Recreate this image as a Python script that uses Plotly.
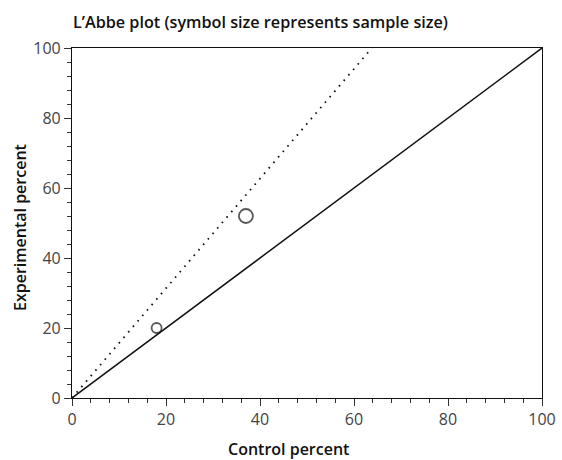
import plotly.graph_objects as go

# Trial event rates (percent)
control_pct = [18, 37]
experimental_pct = [20, 52]

# Reference lines: line of equality and pooled-effect line
equality_x = [0, 100]
equality_y = [0, 100]
pooled_x = [0, 63.8]
pooled_y = [0, 100]

tick_vals = [0, 20, 40, 60, 80, 100]
tick_text = ["0", "20", "40", "60", "80", "100"]

FONT = "Open Sans"

fig = go.Figure()

fig.add_trace(go.Scatter(
    x=equality_x, y=equality_y, mode="lines",
    line=dict(color="#111111", width=1.5), hoverinfo="skip", showlegend=False,
))
fig.add_trace(go.Scatter(
    x=pooled_x, y=pooled_y, mode="lines",
    line=dict(color="#111111", width=1.8, dash="1.6px,5.6px"),
    hoverinfo="skip", showlegend=False,
))
fig.add_trace(go.Scatter(
    x=control_pct, y=experimental_pct, mode="markers",
    marker=dict(symbol="circle-open", size=[10, 14], color="#111111",
                line=dict(width=1.8, color="#111111")),
    showlegend=False, cliponaxis=False,
))

axis_common = dict(
    range=[0, 100], tickvals=tick_vals, ticktext=tick_text,
    showgrid=False, zeroline=False, automargin=False,
    showline=True, mirror=True, linecolor="#111111", linewidth=1.2,
    ticks="outside", ticklen=7, tickwidth=1.2, tickcolor="#333333",
    tickfont=dict(family=FONT, size=16, color="#444444"),
    minor=dict(dtick=4, tick0=0, ticks="outside", ticklen=4,
               tickwidth=1, tickcolor="#333333", showgrid=False),
)

fig.update_xaxes(**axis_common)
fig.update_yaxes(**axis_common)

fig.update_layout(
    width=562, height=460,
    margin=dict(l=72, r=20, t=48, b=62),
    paper_bgcolor="white", plot_bgcolor="white",
    font=dict(family=FONT, color="#111111"),
    annotations=[
        dict(text="L’Abbe plot (symbol size represents sample size)",
             xref="paper", yref="paper", x=(260 - 72) / 470, y=1 + 26 / 350,
             xanchor="center", yanchor="middle", showarrow=False,
             font=dict(family=FONT, size=16.2, color="#111111", weight=600)),
        dict(text="Control percent",
             xref="paper", yref="paper", x=(288 - 72) / 470, y=-(449 - 398) / 350,
             xanchor="center", yanchor="middle", showarrow=False,
             font=dict(family=FONT, size=16, color="#111111", weight=600)),
        dict(text="Experimental percent", textangle=-90,
             xref="paper", yref="paper", x=-(72 - 20) / 470, y=(398 - 228) / 350,
             xanchor="center", yanchor="middle", showarrow=False,
             font=dict(family=FONT, size=16, color="#111111", weight=600)),
    ],
)

fig.write_html("out.html")
